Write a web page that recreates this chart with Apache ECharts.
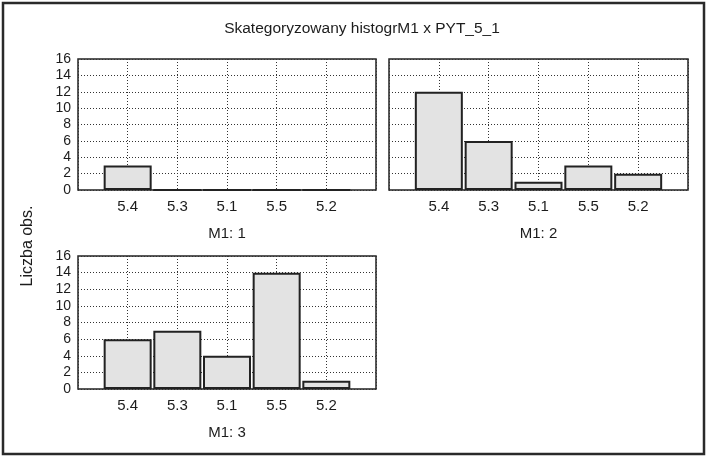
<!DOCTYPE html>
<html>
<head>
<meta charset="utf-8">
<style>
  html, body { margin: 0; padding: 0; background: #fff; }
  #chart { width: 708px; height: 458px; }
</style>
<script src="https://cdn.jsdelivr.net/npm/echarts@6/dist/echarts.min.js"></script>
</head>
<body>
<div id="chart"></div>
<script>
// Categories of PYT_5_1, shared by every panel
const categories = ['5.4', '5.3', '5.1', '5.5', '5.2'];
// Counts per category for each level of M1
const countsM1_1 = [3, 0, 0, 0, 0];
const countsM1_2 = [12, 6, 1, 3, 2];
const countsM1_3 = [6, 7, 4, 14, 1];
const panelNames = ['M1: 1', 'M1: 2', 'M1: 3'];
const yTicks = { min: 0, max: 16, interval: 2 };

const FONT = '"Liberation Sans", Arial, sans-serif';
const INK = '#1c1c1c';

// One empty slot on each side so the bars sit away from the frame
const padded = [''].concat(categories, ['']);
const padData = v => [null].concat(v, [null]);

const grids = [
  { left: 78, top: 59, width: 298, height: 131 },
  { left: 389, top: 59, width: 299, height: 131 },
  { left: 78, top: 256, width: 298, height: 133 }
].map(g => Object.assign({
  show: true, borderColor: '#222', borderWidth: 1.5, backgroundColor: '#fff'
}, g));

const xAxes = panelNames.map((name, i) => ({
  type: 'category', gridIndex: i, data: padded, boundaryGap: false,
  name: name, nameLocation: 'middle', nameGap: 36,
  nameTextStyle: { fontFamily: FONT, fontSize: 15, color: INK },
  axisLine: { show: false }, axisTick: { show: false },
  axisLabel: { fontFamily: FONT, fontSize: 15, color: INK, margin: 9, interval: 0 },
  splitLine: { show: true, lineStyle: { color: '#333', type: [1, 2], width: 1 } }
}));

const yAxes = panelNames.map((name, i) => ({
  type: 'value', gridIndex: i, min: yTicks.min, max: yTicks.max, interval: yTicks.interval,
  axisLine: { show: false }, axisTick: { show: false },
  axisLabel: { show: i !== 1, fontFamily: FONT, fontSize: 14, color: INK, margin: 7 },
  splitLine: { show: true, lineStyle: { color: '#333', type: [1, 2], width: 1 } }
}));

const series = [countsM1_1, countsM1_2, countsM1_3].map((vals, i) => ({
  type: 'bar', xAxisIndex: i, yAxisIndex: i, data: padData(vals),
  barWidth: 48, z: 3,
  itemStyle: { color: '#e3e3e3', borderColor: '#222', borderWidth: 2 },
  emphasis: { disabled: true }
}));

const chart = echarts.init(document.getElementById('chart'), null, { renderer: 'canvas' });
chart.setOption({
  animation: false,
  backgroundColor: '#fff',
  title: {
    text: 'Skategoryzowany histogrM1 x PYT_5_1',
    left: 357, top: 16, textAlign: 'center',
    textStyle: { fontFamily: FONT, fontSize: 15.5, fontWeight: 'normal', color: INK }
  },
  grid: grids, xAxis: xAxes, yAxis: yAxes, series: series,
  graphic: [
    {
      type: 'rect', shape: { x: 3, y: 3, width: 701, height: 451 },
      style: { fill: 'none', stroke: '#2a2a2a', lineWidth: 2.5 }, silent: true
    },
    {
      type: 'text', x: 28, y: 246, rotation: Math.PI / 2,
      style: {
        text: 'Liczba obs.', font: '16px ' + FONT, fill: INK,
        textAlign: 'center', textVerticalAlign: 'middle'
      }
    }
  ]
});
</script>
</body>
</html>
